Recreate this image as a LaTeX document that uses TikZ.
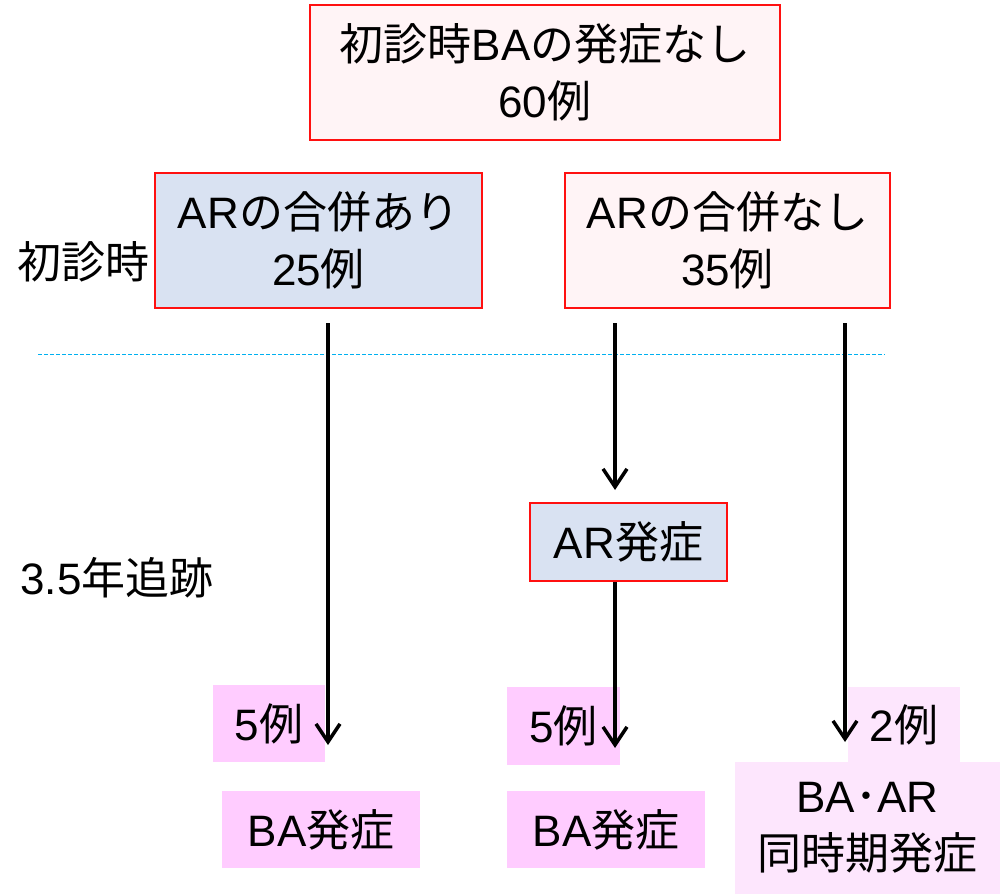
\documentclass[tikz,border=0pt]{standalone}
\usepackage{fontspec}
\setmainfont{Noto Sans CJK JP}
\newfontfamily\lat{Liberation Sans}
\newcommand{\latn}[1]{{\lat #1}}
\usetikzlibrary{arrows.meta}
\definecolor{boxred}{HTML}{FF1010}
\definecolor{pinkbg}{HTML}{FFF4F6}
\definecolor{bluebg}{HTML}{D9E2F2}
\definecolor{magbg}{HTML}{FFCCFF}
\definecolor{lmagbg}{HTML}{FDE6FD}
\definecolor{dashblue}{HTML}{00B0F0}
\tikzset{
  redbox/.style={draw=boxred, line width=2pt, rectangle, align=center, inner sep=0pt,
    font=\fontsize{44}{57}\selectfont},
  plainbox/.style={rectangle, align=center, inner sep=0pt, font=\fontsize{44}{57}\selectfont},
  lbl/.style={font=\fontsize{44}{57}\selectfont, inner sep=0pt},
  arr/.style={line width=3.5pt, -{Straight Barb[length=18pt,width=24pt,line width=3.5pt]}},
}
\begin{document}
\begin{tikzpicture}[x=1pt,y=-1pt]
\useasboundingbox (0,0) rectangle (1000,894);
\fill[white] (0,0) rectangle (1000,894);

\node[redbox, fill=pinkbg, minimum width=470pt, minimum height=135pt] (top) at (545,72.5)
  {初診時\latn{BA}の発症なし\\\latn{60}例};
\node[redbox, fill=bluebg, minimum width=327pt, minimum height=135pt] (left) at (318.5,240.5)
  {\latn{AR}の合併あり\\\latn{25}例};
\node[redbox, fill=pinkbg, minimum width=325pt, minimum height=135pt] (right) at (727.5,240.5)
  {\latn{AR}の合併なし\\\latn{35}例};
\node[lbl] (first) at (83,262) {初診時};
\node[lbl] (follow) at (117,578) {\latn{3.5}年追跡};

\draw[dashblue, line width=1pt, dash pattern=on 4pt off 2pt] (38,354) coordinate (d1) -- (885,354) coordinate (d2);

\node[redbox, fill=bluebg, minimum width=197pt, minimum height=78pt] (arb) at (628.5,542) {\latn{AR}発症};

\node[plainbox, fill=magbg, minimum width=112pt, minimum height=77pt] (n1) at (269,723.5) {\latn{5}例};
\node[plainbox, fill=magbg, minimum width=198pt, minimum height=77pt] (ba1) at (321,829.5) {\latn{BA}発症};
\node[plainbox, fill=magbg, minimum width=113pt, minimum height=78pt] (n2) at (563.5,726) {\latn{5}例};
\node[plainbox, fill=magbg, minimum width=198pt, minimum height=77pt] (ba2) at (606,829.5) {\latn{BA}発症};
\node[plainbox, fill=lmagbg, minimum width=112pt, minimum height=75pt] (n3) at (904,724.5) {\latn{2}例};
\node[plainbox, fill=lmagbg, minimum width=265pt, minimum height=132pt] (both) at (867.5,828)
  {\latn{BA}･\latn{AR}\\同時期発症};

\coordinate (s1) at (328,323);
\coordinate (e1) at (328,745);
\coordinate (s2) at (615,323);
\coordinate (e2) at (615,490);
\coordinate (e2b) at (615,748);
\coordinate (s3) at (845,323);
\coordinate (e3) at (845,742);

\draw[arr] (s1) -- (e1);
\draw[arr] (s2) -- (e2);
\draw[arr] (arb.south -| s2) -- (e2b);
\draw[arr] (s3) -- (e3);
\end{tikzpicture}
\end{document}
